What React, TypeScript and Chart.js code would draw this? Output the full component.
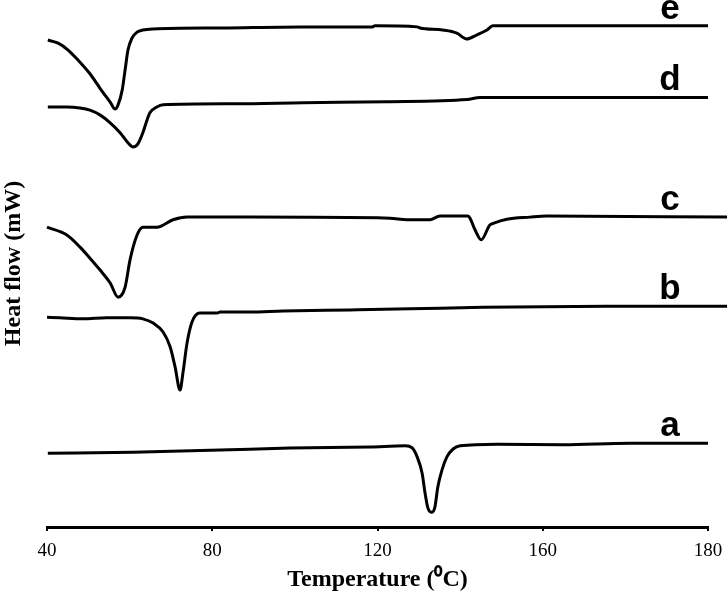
import React, { useEffect, useRef } from "react";
import { Chart, registerables } from "chart.js";

Chart.register(...registerables);

// Tick labels as printed on the original axis (evenly spaced, last one reads 180)
const tickLabels = ["40", "80", "120", "160", "180"];
const seriesNames = ["a", "b", "c", "d", "e"];

// Curve a
const aTemp = [40.2, 60.8, 81.9, 98.8, 118.2, 126.7, 128.4, 129.6, 130.8, 131.5, 132.2, 133.2, 133.9, 134.6, 135.6, 136.8, 138.3, 140.0, 148.9, 164.9, 181.1, 200];
const aFlow = [14.0, 14.2, 14.6, 15.0, 15.2, 15.4, 15.0, 13.3, 10.2, 6.5, 3.6, 2.8, 3.8, 7.6, 10.8, 13.3, 14.8, 15.4, 15.7, 15.6, 15.9, 15.9];

// Curve b
const bTemp = [40, 43.1, 48.7, 54.5, 60.1, 63.2, 65.7, 68.1, 69.8, 71.0, 72.2, 72.9, 73.9, 75.1, 77.0, 81.2, 81.9, 89.1, 97.1, 113.3, 127.9, 145.5, 175.5, 204.6];
const bFlow = [39.8, 39.7, 39.5, 39.7, 39.7, 39.5, 38.7, 37.0, 34.2, 30.4, 26.0, 29.2, 34.9, 38.9, 40.6, 40.6, 40.8, 40.8, 41.0, 41.2, 41.4, 41.7, 41.9, 41.9];

// Curve c
const cTemp = [40, 44.8, 48.0, 50.4, 52.8, 55.3, 57.2, 58.9, 60.1, 61.8, 63.2, 66.6, 70.5, 73.9, 89.1, 123.0, 127.1, 132.7, 135.1, 141.9, 142.4, 143.6, 145.1, 147.2, 148.0, 151.3, 156.9, 161.0, 204.6];
const cFlow = [56.9, 55.4, 53.1, 51.0, 48.8, 46.3, 43.6, 45.5, 50.7, 55.4, 56.9, 56.9, 58.3, 58.8, 58.8, 58.6, 58.3, 58.3, 59.0, 59.0, 58.6, 56.4, 54.5, 57.3, 57.6, 58.4, 58.8, 59.0, 58.8];

// Curve d
const dTemp = [40.2, 44.8, 48.0, 50.4, 52.8, 55.3, 57.7, 59.6, 60.8, 62.0, 63.2, 64.2, 64.9, 66.6, 68.1, 85.0, 102.0, 122.3, 141.7, 144.8, 200];
const dFlow = [79.7, 79.7, 79.5, 79.1, 78.2, 76.7, 74.8, 72.9, 72.1, 72.7, 74.8, 77.2, 78.6, 79.7, 80.1, 80.3, 80.5, 80.7, 81.1, 81.5, 81.5];

// Curve e
const eTemp = [40.2, 42.7, 45.1, 47.5, 50.4, 52.8, 55.3, 56.5, 57.2, 58.2, 58.9, 59.6, 60.6, 61.8, 63.2, 65.7, 82.6, 101.2, 118.7, 119.4, 129.6, 130.3, 135.8, 139.2, 141.6, 144.1, 146.5, 147.9, 148.9, 200];
const eFlow = [92.4, 91.8, 90.5, 88.6, 86.0, 83.3, 80.6, 79.3, 80.1, 82.9, 86.7, 90.5, 92.8, 93.9, 94.3, 94.5, 94.7, 94.9, 94.9, 95.1, 94.9, 94.7, 94.3, 93.7, 92.6, 93.4, 94.3, 95.1, 95.1, 95.1];

const temps = [aTemp, bTemp, cTemp, dTemp, eTemp];
const flows = [aFlow, bFlow, cFlow, dFlow, eFlow];

const LABEL_TEMP = 190.8;

const curveLabelPlugin = {
  id: "curveLabels",
  afterDatasetsDraw(chart: any) {
    const { ctx, scales } = chart;
    const xs = scales.x;
    const ys = scales.y;
    ctx.save();
    ctx.font = "bold 35px 'Liberation Sans', Arial, sans-serif";
    ctx.fillStyle = "#000";
    ctx.textAlign = "center";
    ctx.textBaseline = "alphabetic";
    chart.data.datasets.forEach((ds: any, i: number) => {
      const fl = flows[i];
      const px = xs.getPixelForValue(LABEL_TEMP);
      const py = ys.getPixelForValue(fl[fl.length - 1]) - 7;
      ctx.fillText(ds.label, px, py);
    });
    ctx.restore();
  },
};

export default function App() {
  const ref = useRef<HTMLCanvasElement | null>(null);

  useEffect(() => {
    if (!ref.current) return;
    const datasets = seriesNames.map((name, i) => ({
      label: name,
      data: temps[i].map((t, j) => ({ x: t, y: flows[i][j] })),
      showLine: true,
      borderColor: "#000",
      backgroundColor: "#000",
      borderWidth: 3,
      pointRadius: 0,
      pointHoverRadius: 0,
      cubicInterpolationMode: "monotone" as const,
      clip: false as any,
    }));
    const chart = new Chart(ref.current, {
      type: "scatter",
      data: { datasets },
      options: {
        animation: false,
        responsive: false,
        maintainAspectRatio: false,
        layout: { padding: { left: 0, right: 20, top: 0, bottom: 0 } },
        plugins: {
          legend: { display: false },
          tooltip: { enabled: false },
        },
        scales: {
          x: {
            type: "linear",
            min: 40,
            max: 200,
            afterFit: (scale: any) => {
              scale.height = 65;
              scale.paddingLeft = 0;
              scale.paddingRight = 0;
            },
            ticks: {
              stepSize: 40,
              color: "#000",
              padding: 9,
              maxRotation: 0,
              font: { family: "'Liberation Serif', 'Times New Roman', serif", size: 19 },
              callback: (_v: any, idx: number) => tickLabels[idx],
            },
            grid: {
              display: true,
              drawOnChartArea: false,
              drawTicks: true,
              tickLength: 4,
              color: "#000",
              lineWidth: 2,
            },
            border: { display: true, color: "#000", width: 3 },
            title: {
              display: true,
              text: "Temperature (\u2070C)",
              color: "#000",
              padding: 0,
              font: { family: "'Liberation Serif', 'Times New Roman', serif", size: 24, weight: "bold", lineHeight: 1 },
            },
          },
          y: {
            type: "linear",
            min: 0,
            max: 100,
            afterFit: (scale: any) => {
              scale.width = 47;
            },
            ticks: { display: false },
            grid: { display: false },
            border: { display: false },
            title: {
              display: true,
              text: "Heat flow (mW)",
              color: "#000",
              padding: { top: 2, bottom: 0 },
              font: { family: "'Liberation Serif', 'Times New Roman', serif", size: 24, weight: "bold", lineHeight: 1 },
            },
          },
        },
      },
      plugins: [curveLabelPlugin],
    });
    return () => chart.destroy();
  }, []);

  return (
    <div style={{ position: "fixed", left: 0, top: 0, width: 728, height: 592, background: "#fff" }}>
      <canvas ref={ref} width={728} height={592} style={{ display: "block" }} />
    </div>
  );
}
